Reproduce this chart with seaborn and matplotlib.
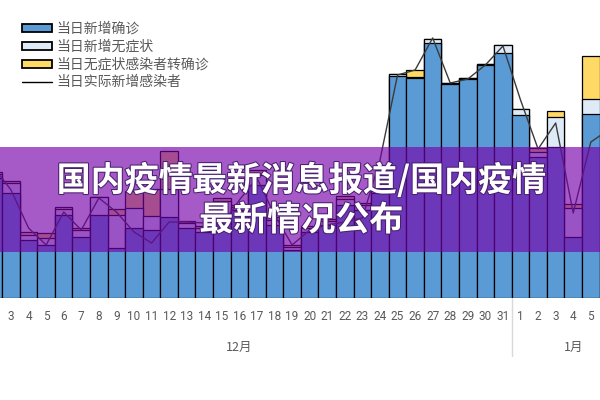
import numpy as np
import pandas as pd
import matplotlib
matplotlib.use("Agg")
import matplotlib.pyplot as plt
import seaborn as sns
from matplotlib.patches import Patch, Rectangle
from matplotlib.lines import Line2D
import matplotlib.patheffects as pe

# ---- data (relative units) ----
dec_days = [str(d) for d in range(1, 32)]
jan_days = [str(d) for d in range(1, 8)]
day_labels = dec_days + jan_days
categories = [f"12-{d}" for d in dec_days] + [f"1-{d}" for d in jan_days]

confirmed = [100, 120, 105, 58, 53, 83, 61, 83, 50, 70, 68, 81, 70, 66, 83, 88,
             113, 73, 48, 66, 73, 93, 88, 105, 222, 220, 255, 214, 219, 233, 245,
             183, 141, 151, 61, 184, 163, 150]
asymptomatic = [10, 4, 10, 5, 7, 6, 7, 18, 33, 20, 14, 28, 5, 4, 14, 3,
                10, 5, 3, 4, 4, 6, 5, 3, 2, 1, 4, 1, 1, 1, 8,
                6, 5, 30, 29, 15, 3, 5]
converted = [3, 2, 2, 3, 5, 2, 2, 0, 6, 17, 27, 38, 2, 2, 3, 2,
             5, 3, 2, 2, 2, 3, 2, 0, 0, 7, 0, 0, 0, 0, 0,
             0, 4, 6, 4, 43, 30, 15]
actual_new = [138, 131, 108, 70, 53, 86, 68, 100, 86, 66, 55, 76, 76, 75, 73, 98,
              120, 83, 53, 68, 73, 76, 80, 138, 223, 228, 260, 215, 219, 233, 252,
              198, 149, 175, 85, 156, 168, 150]

legend_labels = ["当日新增确诊", "当日新增无症状", "当日无症状感染者转确诊", "当日实际新增感染者"]
month_labels = ["12月", "1月"]
title_lines = ["国内疫情最新消息报道/国内疫情", "最新情况公布"]

c_blue = "#5B9BD5"
c_light = "#DEEBF7"
c_yellow = "#FFD966"

df = pd.DataFrame({
    "cat": categories,
    "blue": confirmed,
    "light": np.array(confirmed) + np.array(asymptomatic),
    "total": np.array(confirmed) + np.array(asymptomatic) + np.array(converted),
})

sns.set_theme(style="white")
plt.rcParams["font.family"] = ["Noto Sans CJK SC", "DejaVu Sans"]

fig = plt.figure(figsize=(6, 4), dpi=100)
ax = fig.add_axes([0, 102 / 400, 1, 298 / 400])

bar_kw = dict(width=1.0, edgecolor="black", linewidth=0.9, order=categories, ax=ax)
sns.barplot(data=df, x="cat", y="total", color=c_yellow, saturation=1, **bar_kw)
sns.barplot(data=df, x="cat", y="light", color=c_light, saturation=1, **bar_kw)
sns.barplot(data=df, x="cat", y="blue", color=c_blue, saturation=1, **bar_kw)

pos = np.arange(len(categories))
sns.lineplot(x=pos, y=actual_new, color="#3a3a3a", linewidth=1.0, ax=ax)

ax.set_xlabel("")
ax.set_ylabel("")
ax.set_yticks([])
ax.set_xticks(pos)
ax.set_xticklabels(day_labels, family=["Roboto", "DejaVu Sans"], fontsize=8.5, color="#595959")
ax.tick_params(axis="x", length=0, pad=9)
for s in ax.spines.values():
    s.set_visible(False)
ax.set_facecolor("none")

# month separator and month labels
ax.plot([30.5, 30.5], [0, -58], color="#D9D9D9", linewidth=1.0, clip_on=False)
ax.text(15, -49, month_labels[0], ha="center", va="center", fontsize=9, color="#595959")
ax.text(34, -49, month_labels[1], ha="center", va="center", fontsize=9, color="#595959")
ax.set_xlim(2 - 11 / 17.57, 2 + 589 / 17.57)
ax.set_ylim(0, 298)

# legend
handles = [
    Patch(facecolor=c_blue, edgecolor="black", linewidth=1.3),
    Patch(facecolor=c_light, edgecolor="black", linewidth=1.3),
    Patch(facecolor=c_yellow, edgecolor="black", linewidth=1.3),
    Line2D([0], [0], color="black", linewidth=1.0),
]
leg = fig.legend(handles, legend_labels, loc="upper left", bbox_to_anchor=(22 / 600, 1 - 22 / 400),
                 frameon=False, fontsize=10, labelcolor="#595959", borderpad=0, borderaxespad=0,
                 handlelength=2.15, handleheight=0.5, handletextpad=0.35, labelspacing=0.27)

# banner overlay
fig.patches.append(Rectangle((0, 1 - 252 / 400), 1, 105 / 400, transform=fig.transFigure,
                             facecolor=(118 / 255, 2 / 255, 171 / 255), alpha=0.65,
                             edgecolor="none", zorder=10))
for txt, yy in zip(title_lines, [180, 220]):
    fig.text(0.502, 1 - yy / 400, txt, ha="center", va="center", fontsize=24.5, weight="bold",
             color="white", zorder=11,
             path_effects=[pe.withStroke(linewidth=1.5, foreground="#4a2070")])

fig.savefig("out.png", dpi=100)
